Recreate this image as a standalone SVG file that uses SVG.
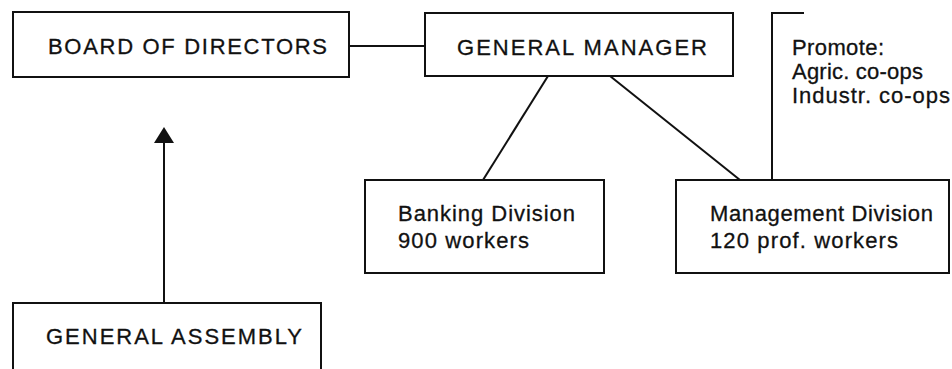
<svg xmlns="http://www.w3.org/2000/svg" width="952" height="369" viewBox="0 0 952 369">
<defs>
<style>
.box{fill:#fff;stroke:#111;stroke-width:2}
.ln{fill:none;stroke:#111;stroke-width:2}
.t{font-family:"Liberation Sans",Arial,sans-serif;font-size:22px;fill:#111;stroke:#111;stroke-width:0.3}
.s{font-family:"Liberation Sans",Arial,sans-serif;font-size:22px;fill:#111;stroke:#111;stroke-width:0.3}
</style>
</defs>
<g id="connectors">
<line class="ln" x1="349" y1="46" x2="425" y2="46"/>
<line class="ln" x1="548" y1="76" x2="483" y2="180"/>
<line class="ln" x1="610" y1="76" x2="740" y2="180"/>
<polyline class="ln" points="804,13 772,13 772,180"/>
<path d="M164,303 L164,142" class="ln"/>
<path d="M154,143 L164,127 L174,143 Z" fill="#111"/>
</g>
<g id="board">
<rect class="box" x="13" y="12" width="336" height="65"/>
<text class="t" x="48" y="54" textLength="279" lengthAdjust="spacing">BOARD OF DIRECTORS</text>
</g>
<g id="general-manager">
<rect class="box" x="425" y="13" width="308" height="63"/>
<text class="t" x="457" y="55" textLength="250" lengthAdjust="spacing">GENERAL MANAGER</text>
</g>
<g id="promote">
<text class="s" x="792" y="55" textLength="92" lengthAdjust="spacing">Promote:</text>
<text class="s" x="792" y="79" textLength="131" lengthAdjust="spacing">Agric. co-ops</text>
<text class="s" x="792" y="103" textLength="158" lengthAdjust="spacing">Industr. co-ops</text>
</g>
<g id="banking">
<rect class="box" x="365" y="180" width="239" height="93"/>
<text class="s" x="398" y="221" textLength="177" lengthAdjust="spacing">Banking Division</text>
<text class="s" x="398" y="248" textLength="131" lengthAdjust="spacing">900 workers</text>
</g>
<g id="management">
<rect class="box" x="676" y="180" width="273" height="93"/>
<text class="s" x="710" y="221" textLength="223" lengthAdjust="spacing">Management Division</text>
<text class="s" x="710" y="248" textLength="188" lengthAdjust="spacing">120 prof. workers</text>
</g>
<g id="general-assembly">
<rect class="box" x="13" y="303" width="308" height="80"/>
<text class="t" x="46" y="344" textLength="256" lengthAdjust="spacing">GENERAL ASSEMBLY</text>
</g>
</svg>
